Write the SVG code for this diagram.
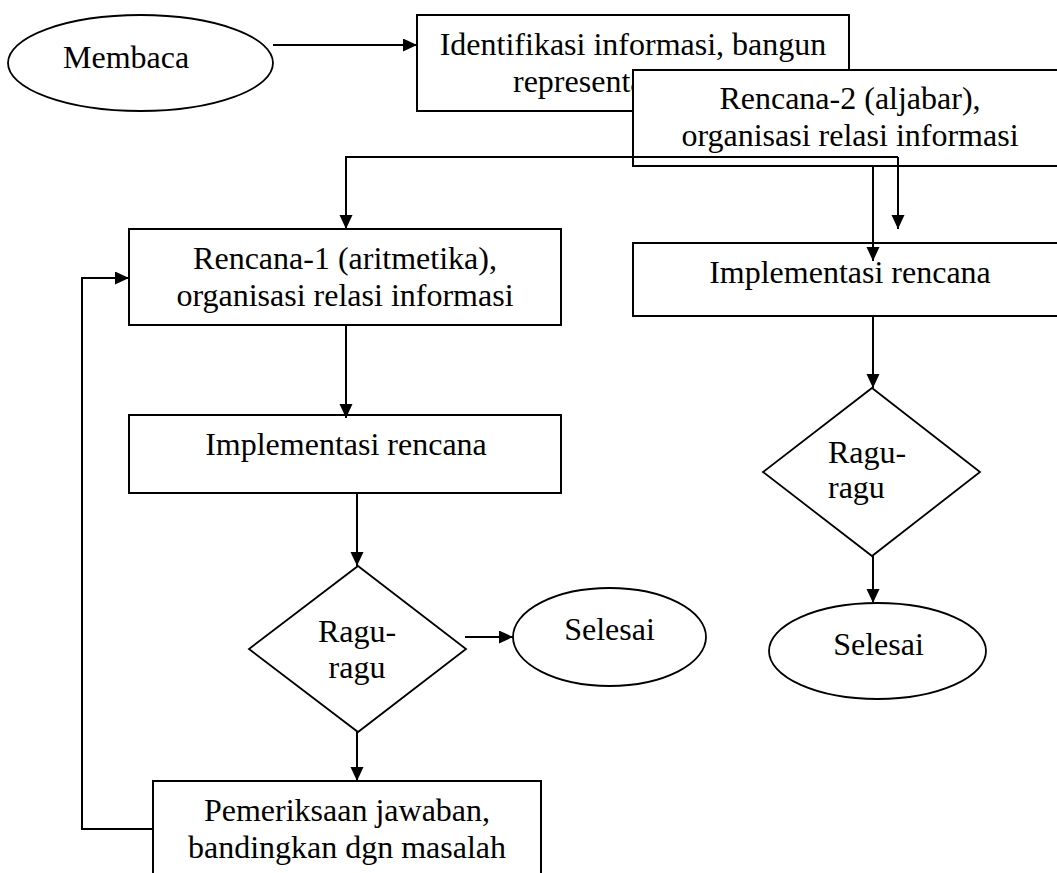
<svg xmlns="http://www.w3.org/2000/svg" width="1057" height="873" viewBox="0 0 1057 873">
<style>
  .box{fill:#fff;stroke:#000;stroke-width:2}
  .shape{fill:#fff;stroke:#000;stroke-width:1.8}
  text{font-family:'Liberation Serif','DejaVu Serif',serif;font-size:32px;fill:#000}
  .m{text-anchor:middle}
  .c{fill:none;stroke:#000;stroke-width:2;marker-end:url(#arr)}
</style>
<defs>
  <marker id="arr" markerUnits="userSpaceOnUse" markerWidth="15" markerHeight="14" refX="14" refY="6.5" orient="auto">
    <path d="M0,0 L14,6.5 L0,13 Z" fill="#000"/>
  </marker>
</defs>
<rect width="1057" height="873" fill="#fff"/>

<g id="membaca">
  <ellipse class="shape" cx="140.5" cy="63" rx="132.5" ry="48"/>
  <text font-family="Liberation Serif, serif" x="63" y="68">Membaca</text>
</g>
<g id="identifikasi">
  <rect class="box" x="417" y="15" width="432" height="96"/>
  <text font-family="Liberation Serif, serif" class="m" x="633" y="55">Identifikasi informasi, bangun</text>
  <text font-family="Liberation Serif, serif" x="513" y="92">representa</text>
</g>
<g id="rencana2">
  <rect class="box" x="633" y="70" width="440" height="96"/>
  <text font-family="Liberation Serif, serif" class="m" x="850" y="109">Rencana-2 (aljabar),</text>
  <text font-family="Liberation Serif, serif" class="m" x="850" y="146">organisasi relasi informasi</text>
</g>
<g id="rencana1">
  <rect class="box" x="129" y="229" width="432" height="96"/>
  <text font-family="Liberation Serif, serif" class="m" x="345" y="269">Rencana-1 (aritmetika),</text>
  <text font-family="Liberation Serif, serif" class="m" x="345" y="306">organisasi relasi informasi</text>
</g>
<g id="impl1">
  <rect class="box" x="129" y="415" width="432" height="78"/>
  <text font-family="Liberation Serif, serif" class="m" x="346" y="455">Implementasi rencana</text>
</g>
<g id="impl2">
  <rect class="box" x="633" y="243" width="440" height="73"/>
  <text font-family="Liberation Serif, serif" class="m" x="850" y="283">Implementasi rencana</text>
</g>
<g id="ragu1">
  <polygon class="shape" points="358,566 466,649 358,732 249,649"/>
  <text font-family="Liberation Serif, serif" class="m" x="357" y="642">Ragu-</text>
  <text font-family="Liberation Serif, serif" class="m" x="357" y="678">ragu</text>
</g>
<g id="ragu2">
  <polygon class="shape" points="872,388 980,472 872,556 763,472"/>
  <text font-family="Liberation Serif, serif" x="828" y="463">Ragu-</text>
  <text font-family="Liberation Serif, serif" x="828" y="498">ragu</text>
</g>
<g id="selesai1">
  <ellipse class="shape" cx="609.5" cy="637" rx="96.5" ry="49"/>
  <text font-family="Liberation Serif, serif" class="m" x="609.5" y="640">Selesai</text>
</g>
<g id="selesai2">
  <ellipse class="shape" cx="877.5" cy="651" rx="108.5" ry="48"/>
  <text font-family="Liberation Serif, serif" class="m" x="878.5" y="655">Selesai</text>
</g>
<g id="pemeriksaan">
  <rect class="box" x="153" y="781" width="388" height="120"/>
  <text font-family="Liberation Serif, serif" class="m" x="347" y="821">Pemeriksaan jawaban,</text>
  <text font-family="Liberation Serif, serif" class="m" x="347" y="858">bandingkan dgn masalah</text>
</g>

<g id="connectors">
  <path class="c" d="M273,45 H417"/>
  <path class="c" d="M898,157 H346 V229"/>
  <path class="c" d="M898,157 V229"/>
  <path class="c" d="M873,166 V261"/>
  <path class="c" d="M346,325 V418"/>
  <path class="c" d="M357,493 V566"/>
  <path class="c" d="M465,637 H513"/>
  <path class="c" d="M357,732 V781"/>
  <path class="c" d="M153,829 H82 V278 H129"/>
  <path class="c" d="M873,316 V388"/>
  <path class="c" d="M873,556 V603"/>
</g>
</svg>
